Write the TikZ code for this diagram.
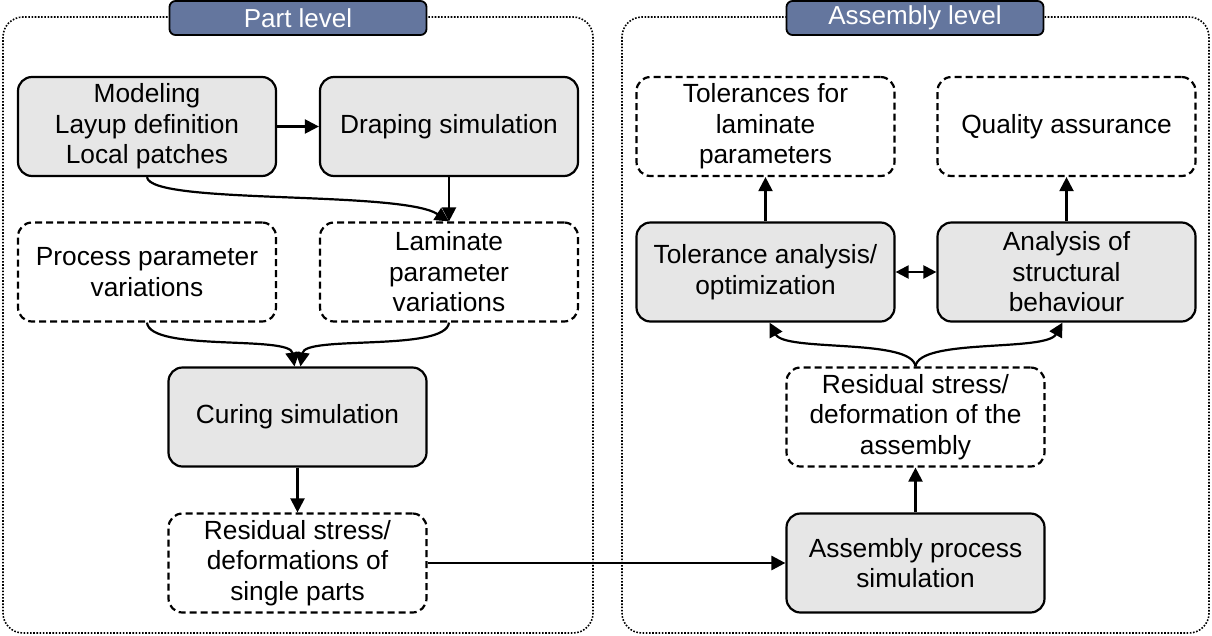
\documentclass[tikz,border=0pt]{standalone}
\usepackage{fontspec}
\setmainfont{Liberation Sans}
\usetikzlibrary{arrows.meta}
\definecolor{boxgray}{RGB}{230,230,230}
\definecolor{tabblue}{RGB}{100,118,158}
\begin{document}
\begin{tikzpicture}[x=1pt,y=-1pt,
  basebox/.style={rounded corners=14pt, draw, line width=2.2pt, minimum width=258pt, minimum height=99pt,
    align=center, inner sep=2pt, font=\fontsize{26.3}{30.5}\selectfont},
  solidbox/.style={basebox, fill=boxgray},
  dashbox/.style={basebox, fill=white, dash pattern=on 7pt off 4pt},
  tabbox/.style={draw, line width=1.8pt, fill=tabblue, rounded corners=6pt, minimum width=257pt, minimum height=34pt,
    text=white, inner sep=0pt, font=\fontsize{26}{30}\selectfont},
  outer/.style={draw, line width=1.6pt, dash pattern=on 1.6pt off 1.6pt, rounded corners=20pt},
  conn/.style={line width=2.2pt, -{Triangle[length=14pt,width=14pt]}},
  dconn/.style={line width=2.2pt, {Triangle[length=13pt,width=13pt]}-{Triangle[length=13pt,width=13pt]}}]
\useasboundingbox (0,0) rectangle (1212,635);
% outer frames
\draw[outer] (3,17) rectangle (593,633);
\draw[outer] (622,17) rectangle (1209,633);
\node[tabbox] (tabL) at (298,18) {Part level};
\node[tabbox] (tabR) at (915,18) {Assembly level};
% left column
\node[solidbox] (model) at (147,126.5) {Modeling\\Layup definition\\Local patches};
\node[solidbox] (drape) at (449,126.5) {Draping simulation};
\node[dashbox] (proc) at (147,272) {Process parameter\\variations};
\node[dashbox] (lam) at (449,272) {Laminate\\parameter\\variations};
\node[solidbox] (cure) at (297.5,417) {Curing simulation};
\node[dashbox] (resL) at (297.5,563) {Residual stress/\\deformations of\\single parts};
% right column
\node[dashbox] (tol) at (765.5,126.5) {Tolerances for\\laminate\\parameters};
\node[dashbox] (qa) at (1066.5,126.5) {Quality assurance};
\node[solidbox] (tana) at (765.5,272) {Tolerance analysis/\\optimization};
\node[solidbox] (struct) at (1066.5,272) {Analysis of\\structural\\behaviour};
\node[dashbox] (resA) at (915.5,417) {Residual stress/\\deformation of the\\assembly};
\node[solidbox] (asm) at (915.5,563) {Assembly process\\simulation};
% connectors
\draw[conn] (model.east) -- (drape.west);
\draw[conn] (drape.south) -- (lam.north);
\draw[conn] (model.south) .. controls (150,205) and (400,190) .. (lam.north);
\draw[conn] (proc.south) .. controls (150,352) and (290,335) .. ([xshift=-3pt]cure.north);
\draw[conn] (lam.south) .. controls (446,352) and (305,335) .. ([xshift=3pt]cure.north);
\draw[conn] (cure.south) -- (resL.north);
\draw[conn, line width=2.8pt] (resL.east) -- (asm.west);
\draw[conn] (asm.north) -- (resA.south);
\draw[conn] (resA.north) .. controls (912,338) and (785,352) .. ([xshift=4pt]tana.south);
\draw[conn] (resA.north) .. controls (919,338) and (1046,352) .. ([xshift=-4pt]struct.south);
\draw[dconn] (tana.east) -- (struct.west);
\draw[conn] (tana.north) -- (tol.south);
\draw[conn] (struct.north) -- (qa.south);
\end{tikzpicture}
\end{document}
